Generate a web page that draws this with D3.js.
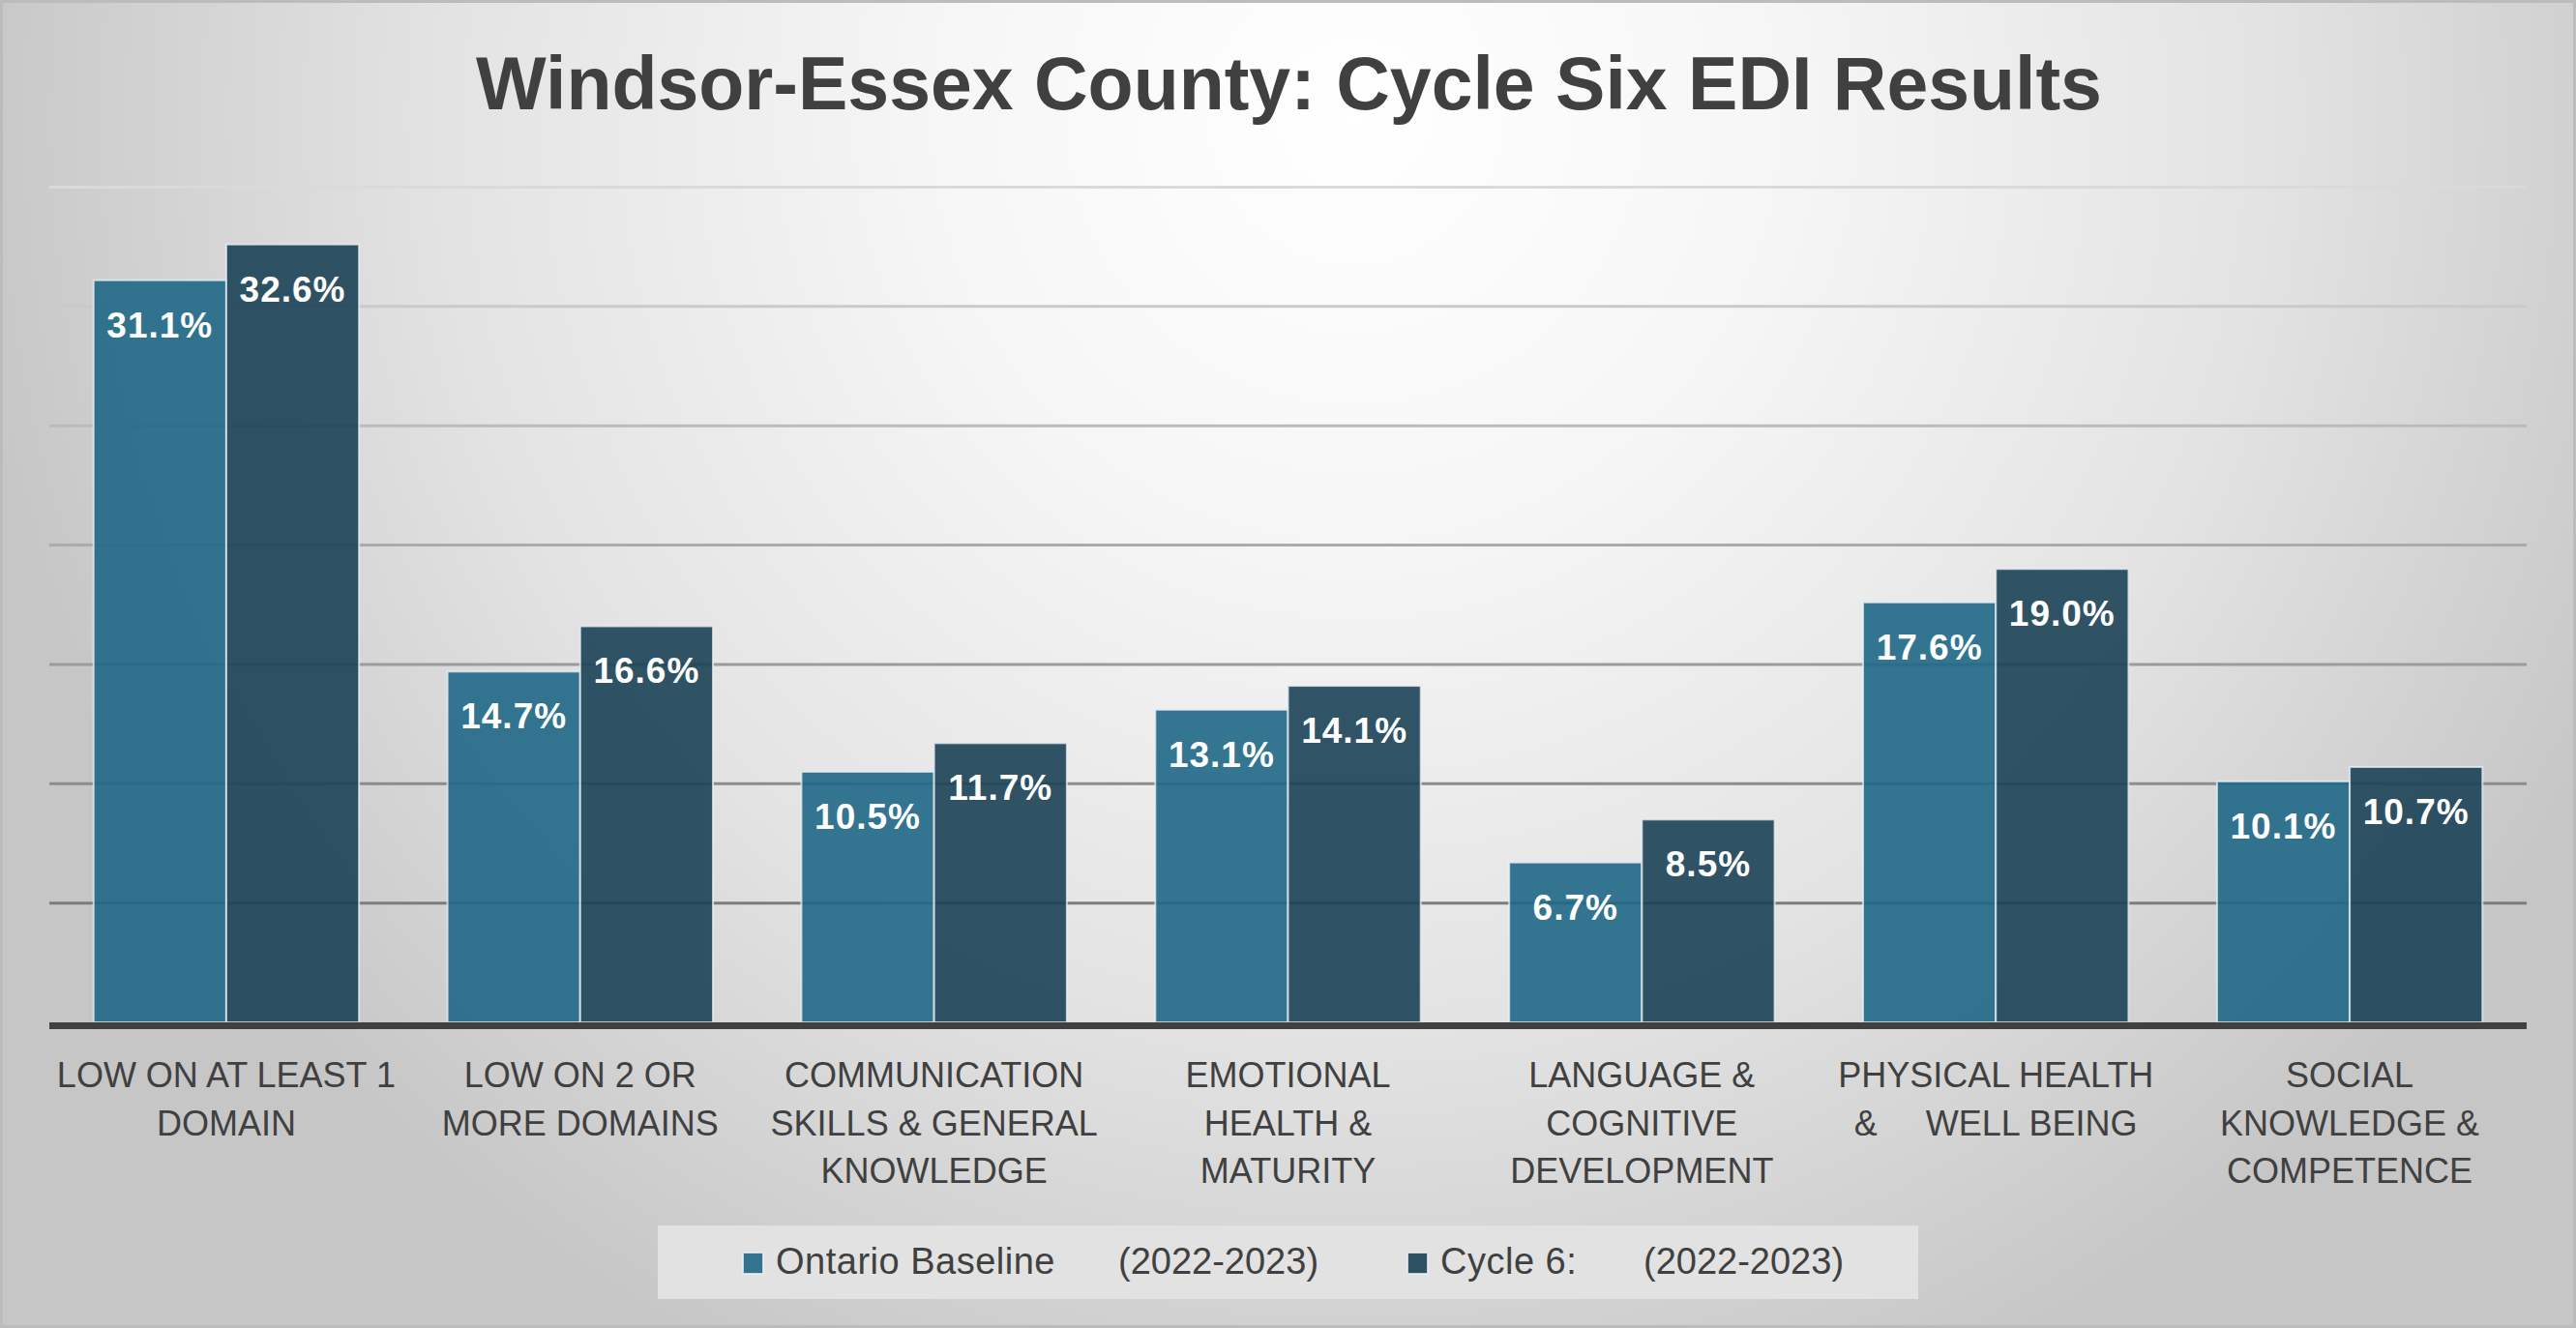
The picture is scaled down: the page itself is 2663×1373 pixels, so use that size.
<!DOCTYPE html>
<html>
<head>
<meta charset="utf-8">
<script src="https://cdn.jsdelivr.net/npm/d3@7/dist/d3.min.js"></script>
<style>
  html, body { margin: 0; padding: 0; background: #ffffff; }
  svg { display: block; }
  text { font-family: "Liberation Sans", Arial, sans-serif; }
</style>
</head>
<body>
<svg id="chart" width="2663" height="1373"></svg>
<script>
// ---- Data ----
const title = "Windsor-Essex County: Cycle Six EDI Results";
const categories = [
  ["LOW ON AT LEAST 1", "DOMAIN"],
  ["LOW ON 2 OR", "MORE DOMAINS"],
  ["COMMUNICATION", "SKILLS & GENERAL", "KNOWLEDGE"],
  ["EMOTIONAL", "HEALTH &", "MATURITY"],
  ["LANGUAGE &", "COGNITIVE", "DEVELOPMENT"],
  ["PHYSICAL HEALTH", "&     WELL BEING"],
  ["SOCIAL", "KNOWLEDGE &", "COMPETENCE"]
];
const seriesNames = ["Ontario Baseline", "Cycle 6:"];
const seriesPeriods = ["(2022-2023)", "(2022-2023)"];
const ontarioValues = [31.1, 14.7, 10.5, 13.1, 6.7, 17.6, 10.1];
const cycle6Values  = [32.6, 16.6, 11.7, 14.1, 8.5, 19.0, 10.7];
const gridTicks = [5, 10, 15, 20, 25, 30, 35];
const seriesColors = ["#1F6886", "#1B4357"];

// ---- Layout ----
const W = 2663, H = 1373;
const plot = { left: 51, right: 2612, top: 193.5, bottom: 1057 };

const svg = d3.select("#chart");
const defs = svg.append("defs");

const bg = defs.append("radialGradient")
  .attr("id", "bgGrad")
  .attr("gradientUnits", "userSpaceOnUse")
  .attr("cx", 1400).attr("cy", 120).attr("r", 1450);
[[0, "#ffffff"], [0.3, "#f6f6f6"], [0.65, "#e3e3e3"], [1, "#c6c6c6"]]
  .forEach(([o, c]) => bg.append("stop").attr("offset", o).attr("stop-color", c));

svg.append("rect").attr("x", 0).attr("y", 0).attr("width", W).attr("height", H)
  .attr("fill", "url(#bgGrad)");
svg.append("rect").attr("x", 1.5).attr("y", 1.5).attr("width", W - 3).attr("height", H - 3)
  .attr("fill", "none").attr("stroke", "#bcbcbc").attr("stroke-width", 3);

// ---- Scales ----
const x0 = d3.scaleBand()
  .domain(d3.range(categories.length))
  .range([plot.left, plot.right])
  .paddingInner(0.25)
  .paddingOuter(0.125);

const x1 = d3.scaleBand()
  .domain(d3.range(seriesNames.length))
  .range([0, x0.bandwidth()])
  .padding(0);

const y = d3.scaleLinear().domain([0, 35]).range([plot.bottom, plot.top]);

const gridColor = d3.scaleLinear().domain([5, 35]).range(["#7c7c7c", "#dadada"]);

// ---- Gridlines ----
svg.append("g").selectAll("line").data(gridTicks).join("line")
  .attr("x1", plot.left).attr("x2", plot.right)
  .attr("y1", d => y(d)).attr("y2", d => y(d))
  .attr("stroke", d => gridColor(d))
  .attr("stroke-width", 3);

// ---- Title ----
svg.append("text")
  .attr("x", (plot.left + plot.right) / 2 + 1)
  .attr("y", 113)
  .attr("text-anchor", "middle")
  .attr("font-size", 77)
  .attr("font-weight", "bold")
  .attr("fill", "#404040")
  .text(title);

// ---- Bars ----
const allValues = [ontarioValues, cycle6Values];
const barData = [];
categories.forEach((c, i) => {
  allValues.forEach((vals, s) => barData.push({ cat: i, s, v: vals[i] }));
});

const bars = svg.append("g");
bars.selectAll("rect").data(barData).join("rect")
  .attr("x", d => x0(d.cat) + x1(d.s))
  .attr("y", d => y(d.v))
  .attr("width", x1.bandwidth())
  .attr("height", d => y(0) - y(d.v))
  .attr("fill", d => seriesColors[d.s])
  .attr("fill-opacity", 0.9)
  .attr("stroke", "rgba(235,240,245,0.75)")
  .attr("stroke-width", 2);

// ---- Data labels ----
svg.append("g").selectAll("text").data(barData).join("text")
  .attr("x", d => x0(d.cat) + x1(d.s) + x1.bandwidth() / 2)
  .attr("y", d => y(d.v) + 59)
  .attr("text-anchor", "middle")
  .attr("font-size", 37)
  .attr("font-weight", "bold")
  .attr("letter-spacing", 1)
  .attr("fill", "#ffffff")
  .text(d => d.v.toFixed(1) + "%");

// ---- Baseline axis ----
svg.append("line")
  .attr("x1", plot.left).attr("x2", plot.right)
  .attr("y1", y(0) + 3.5).attr("y2", y(0) + 3.5)
  .attr("stroke", "#404040").attr("stroke-width", 7);

// ---- Category labels ----
const catG = svg.append("g").selectAll("text").data(categories).join("text")
  .attr("text-anchor", "middle")
  .attr("font-size", 36)
  .attr("fill", "#404040")
  .style("white-space", "pre");
catG.each(function (lines, i) {
  const t = d3.select(this);
  lines.forEach((ln, k) => {
    t.append("tspan")
      .attr("x", x0(i) + x0.bandwidth() / 2)
      .attr("y", y(0) + 67 + k * 49.5)
      .text(ln);
  });
});

// ---- Legend ----
const legendBox = { x: 680, y: 1267, w: 1303, h: 76 };
svg.append("rect")
  .attr("x", legendBox.x).attr("y", legendBox.y)
  .attr("width", legendBox.w).attr("height", legendBox.h)
  .attr("fill", "#e2e2e2");

const legendMarkerX = [768, 1455];
const legendPeriodX = [1156, 1699];
const legG = svg.append("g").selectAll("g").data(seriesNames).join("g");
legG.append("rect")
  .attr("x", (d, i) => legendMarkerX[i])
  .attr("y", 1295)
  .attr("width", 21).attr("height", 22)
  .attr("fill", (d, i) => seriesColors[i])
  .attr("fill-opacity", 0.9)
  .attr("stroke", "rgba(235,240,245,0.8)")
  .attr("stroke-width", 2);
legG.append("text")
  .attr("x", (d, i) => legendMarkerX[i] + 34)
  .attr("y", 1317)
  .attr("font-size", 38)
  .attr("letter-spacing", 0.5)
  .attr("fill", "#404040")
  .text(d => d);
legG.append("text")
  .attr("x", (d, i) => legendPeriodX[i])
  .attr("y", 1317)
  .attr("font-size", 38)
  .attr("fill", "#404040")
  .text((d, i) => seriesPeriods[i]);
</script>
</body>
</html>
